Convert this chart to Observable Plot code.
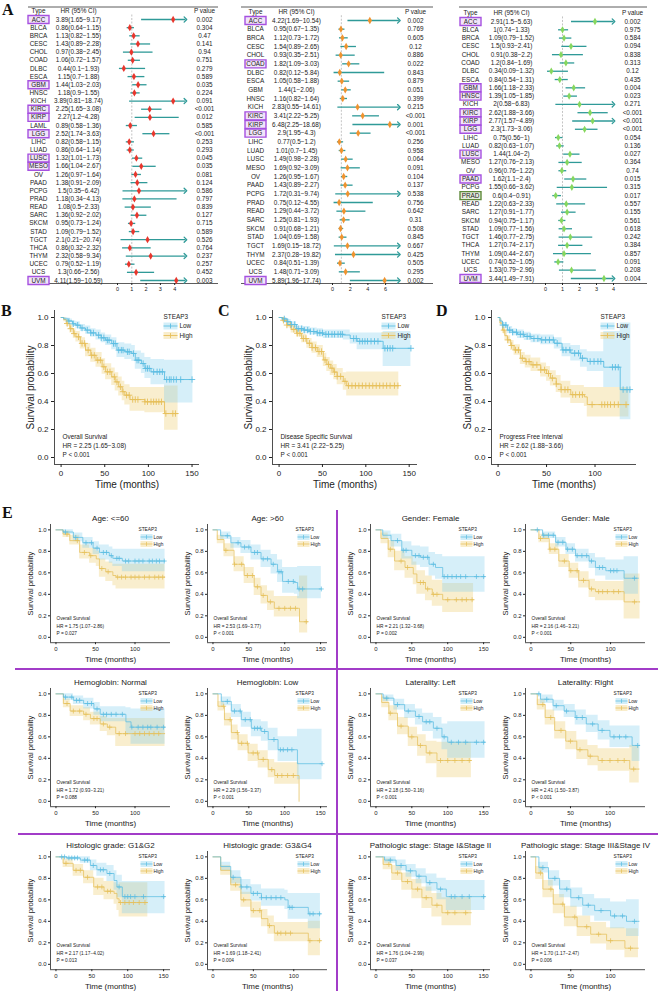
<!DOCTYPE html>
<html><head><meta charset="utf-8">
<script src="https://cdn.jsdelivr.net/npm/d3@7"></script>
<script src="https://cdn.jsdelivr.net/npm/@observablehq/plot@0.6"></script>
<style>
body{margin:0;background:#fff;}
#root{position:relative;width:658px;height:991px;overflow:hidden;background:#fff;font-family:"Liberation Sans",Arial,sans-serif;}
.lab{position:absolute;font-family:"Liberation Serif","Times New Roman",serif;font-weight:bold;font-size:16px;line-height:16px;color:#111;}
.dv{position:absolute;background:#a23cc8;}
</style></head><body><div id="root"></div>
<script>
// ---------------- Forest plot data (A) ----------------
const osTypes = ["ACC","BLCA","BRCA","CESC","CHOL","COAD","DLBC","ESCA","GBM","HNSC","KICH","KIRC","KIRP","LAML","LGG","LIHC","LUAD","LUSC","MESO","OV","PAAD","PCPG","PRAD","READ","SARC","SKCM","STAD","TGCT","THCA","THYM","UCEC","UCS","UVM"];
const osHR = [3.89,0.86,1.13,1.43,0.97,1.06,0.44,1.15,1.44,1.18,3.89,2.25,2.27,0.89,2.52,0.82,0.86,1.32,1.66,1.26,1.38,1.5,1.18,1.08,1.36,0.95,1.09,2.1,0.86,2.32,0.79,1.3,4.11];
const osLo = [1.65,0.64,0.82,0.89,0.38,0.72,0.1,0.7,1.03,0.9,0.81,1.65,1.2,0.58,1.74,0.58,0.64,1.01,1.04,0.97,0.91,0.35,0.34,0.5,0.92,0.73,0.79,0.21,0.32,0.58,0.52,0.66,1.59];
const osHi = [9.17,1.15,1.55,2.28,2.45,1.57,1.93,1.88,2.03,1.55,18.74,3.08,4.28,1.36,3.63,1.15,1.14,1.73,2.67,1.64,2.09,6.42,4.13,2.33,2.02,1.24,1.52,20.74,2.32,9.34,1.19,2.56,10.59];
const osP = ["0.002","0.304","0.47","0.141","0.94","0.751","0.279","0.589","0.035","0.224","0.091","<0.001","0.012","0.585","<0.001","0.253","0.293","0.045","0.035","0.081","0.124","0.586","0.797","0.839","0.127","0.715","0.589","0.526","0.764","0.237","0.257","0.452","0.003"];
const osHL = ["ACC","GBM","KIRC","KIRP","LGG","LUSC","MESO","UVM"];

const dssTypes = ["ACC","BLCA","BRCA","CESC","CHOL","COAD","DLBC","ESCA","GBM","HNSC","KICH","KIRC","KIRP","LGG","LIHC","LUAD","LUSC","MESO","OV","PAAD","PCPG","PRAD","READ","SARC","SKCM","STAD","TGCT","THYM","UCEC","UCS","UVM"];
const dssHR = [4.22,0.95,1.12,1.54,0.93,1.82,0.82,1.05,1.44,1.16,2.83,3.41,6.48,2.9,0.77,1.01,1.49,1.69,1.26,1.43,1.72,0.75,1.29,1.25,0.91,1.04,1.69,2.37,0.84,1.48,5.89];
const dssLo = [1.69,0.67,0.73,0.89,0.35,1.09,0.12,0.58,1,0.82,0.55,2.22,2.25,1.95,0.5,0.7,0.98,0.92,0.95,0.89,0.31,0.12,0.44,0.81,0.68,0.69,0.15,0.28,0.51,0.71,1.96];
const dssHi = [10.54,1.35,1.72,2.65,2.51,3.03,5.84,1.88,2.06,1.64,14.61,5.25,18.68,4.3,1.2,1.45,2.28,3.09,1.67,2.27,9.74,4.55,3.72,1.93,1.21,1.58,18.72,19.82,1.39,3.09,17.74];
const dssP = ["0.002","0.769","0.605","0.12","0.886","0.022","0.843","0.879","0.051","0.399","0.215","<0.001","0.001","<0.001","0.256","0.958","0.064","0.091","0.104","0.137","0.538","0.756","0.642","0.31","0.508","0.845","0.667","0.425","0.505","0.295","0.002"];
const dssHL = ["ACC","COAD","KIRC","KIRP","LGG","UVM"];

const pfiTypes = ["ACC","BLCA","BRCA","CESC","CHOL","COAD","DLBC","ESCA","GBM","HNSC","KICH","KIRC","KIRP","LGG","LIHC","LUAD","LUSC","MESO","OV","PAAD","PCPG","PRAD","READ","SARC","SKCM","STAD","TGCT","THCA","THYM","UCEC","UCS","UVM"];
const pfiHR = [2.91,1,1.09,1.5,0.91,1.2,0.34,0.84,1.66,1.39,2,2.62,2.77,2.3,0.75,0.82,1.44,1.27,0.96,1.62,1.55,0.6,1.22,1.27,0.94,1.09,1.46,1.27,1.09,0.74,1.53,3.44];
const pfiLo = [1.5,0.74,0.79,0.93,0.38,0.84,0.09,0.54,1.18,1.05,0.58,1.88,1.57,1.73,0.56,0.63,1.04,0.76,0.76,1.1,0.66,0.4,0.63,0.91,0.75,0.77,0.77,0.74,0.44,0.52,0.79,1.49];
const pfiHi = [5.63,1.33,1.52,2.41,2.2,1.69,1.32,1.31,2.33,1.85,6.83,3.66,4.89,3.06,1,1.07,2,2.13,1.22,2.4,3.62,0.91,2.33,1.77,1.17,1.56,2.75,2.17,2.67,1.05,2.96,7.91];
const pfiP = ["0.002","0.975","0.584","0.094","0.838","0.313","0.12","0.435","0.004","0.023","0.271","<0.001","<0.001","<0.001","0.054","0.136","0.027","0.364","0.74","0.015","0.315","0.017","0.557","0.155","0.561","0.618","0.242","0.384","0.857","0.091","0.208","0.004"];
const pfiHL = ["ACC","GBM","HNSC","KIRC","KIRP","LGG","LUSC","PAAD","UVM"];
const pfiHLGreen = ["PRAD"];

// ---------------- KM data: [time, survival, lower, upper] ----------------
const osKmLow = [[0,1,1,1],[3,0.99,0.98,1],[8,0.975,0.96,0.99],[13,0.955,0.935,0.975],[17,0.945,0.92,0.97],[22,0.925,0.9,0.95],[28,0.91,0.88,0.94],[34,0.89,0.86,0.92],[40,0.874,0.84,0.91],[46,0.855,0.82,0.89],[51,0.838,0.8,0.875],[58,0.814,0.77,0.855],[64,0.767,0.715,0.82],[73,0.755,0.7,0.81],[81,0.743,0.685,0.8],[85,0.695,0.63,0.76],[92,0.671,0.6,0.745],[96,0.636,0.565,0.715],[103,0.612,0.52,0.7],[118.5,0.557,0.39,0.695],[151,0.557,0.39,0.695]];
const osKmHigh = [[0,1,1,1],[3,0.985,0.97,1],[6,0.957,0.935,0.98],[10,0.92,0.89,0.95],[14,0.885,0.85,0.92],[17,0.862,0.825,0.9],[22,0.815,0.775,0.855],[28,0.767,0.72,0.815],[34,0.73,0.68,0.78],[40,0.695,0.645,0.75],[47,0.648,0.595,0.705],[51,0.612,0.555,0.67],[58,0.576,0.515,0.64],[62,0.54,0.475,0.605],[66,0.505,0.44,0.575],[70,0.47,0.405,0.545],[73,0.445,0.375,0.52],[79,0.414,0.33,0.5],[96,0.398,0.32,0.5],[118.5,0.314,0.195,0.51],[134,0.314,0.195,0.51]];
const osCensLow = [9,14,19,24,30,34,37,43,46,49,53,55,60,62,66,69,71,76,78,83,87,89,94,97,99,101,106,110,113,116,121,124,126,129,132,137,150];
const osCensHigh = [7,11,15,20,24,27,31,35,38,42,45,49,53,56,61,64,68,71,75,78,82,85,88,96,99,103,106,109,112,115,120,128,131];

const dssKmLow = [[0,1,1,1],[4,0.99,0.98,1],[9,0.97,0.955,0.985],[14,0.95,0.93,0.97],[20,0.92,0.9,0.94],[28,0.91,0.885,0.935],[36,0.9,0.875,0.925],[44,0.89,0.86,0.92],[51,0.88,0.85,0.91],[74,0.875,0.84,0.91],[82,0.85,0.81,0.89],[90,0.83,0.77,0.89],[120,0.78,0.65,0.9],[152,0.78,0.65,0.9]];
const dssKmHigh = [[0,1,1,1],[4,0.98,0.965,0.995],[9,0.946,0.925,0.965],[14,0.915,0.89,0.94],[20,0.887,0.86,0.915],[26,0.85,0.82,0.88],[32,0.816,0.78,0.85],[38,0.785,0.745,0.825],[44,0.757,0.715,0.8],[51,0.697,0.65,0.745],[55,0.665,0.615,0.715],[59,0.638,0.585,0.69],[63,0.61,0.555,0.665],[67,0.579,0.52,0.635],[74,0.544,0.48,0.605],[78,0.513,0.44,0.61],[138,0.513,0.44,0.61]];
const dssCensLow = [6,10,14,18,22,26,29,33,36,40,44,47,50,54,57,61,64,68,71,73,86,89,93,96,99,102,106,110,114,122,125,128,131,152];
const dssCensHigh = [5,9,13,17,21,24,28,31,35,38,42,46,49,53,57,61,64,67,71,76,80,84,88,92,96,100,104,108,112,116,120,124,128,133,137];

const pfiKmLow = [[0,1,1,1],[2,0.975,0.96,0.99],[4.5,0.946,0.925,0.965],[9.6,0.91,0.885,0.935],[15,0.895,0.87,0.92],[20,0.88,0.85,0.91],[27,0.865,0.835,0.895],[34,0.85,0.82,0.88],[44,0.84,0.805,0.875],[58,0.816,0.775,0.855],[66,0.768,0.72,0.815],[75,0.745,0.69,0.8],[85,0.709,0.645,0.77],[92,0.686,0.615,0.755],[109,0.645,0.5,0.9],[126,0.485,0.27,0.96],[137,0.485,0.27,0.96]];
const pfiKmHigh = [[0,1,1,1],[2,0.96,0.94,0.98],[4.5,0.91,0.885,0.935],[7,0.87,0.84,0.9],[9.6,0.84,0.81,0.87],[13,0.8,0.765,0.835],[16.5,0.768,0.73,0.805],[23,0.709,0.665,0.75],[28,0.685,0.64,0.73],[34,0.662,0.615,0.71],[44,0.626,0.575,0.675],[50,0.6,0.545,0.65],[54,0.567,0.51,0.62],[60,0.525,0.465,0.585],[65,0.485,0.425,0.545],[75,0.449,0.385,0.515],[89,0.433,0.365,0.5],[92,0.378,0.29,0.5],[135,0.378,0.29,0.5]];
const pfiCensLow = [5,8,12,15,19,23,26,30,33,37,41,45,49,53,57,61,67,70,74,79,83,87,95,99,103,106,118,121,124,129,133,136];
const pfiCensHigh = [6,10,14,18,21,25,29,32,36,40,44,48,52,56,60,65,69,72,77,80,84,87,97,107,110,113,116,120,124,132];

// E subgroups
const ageYLow = [[0,1,1,1],[9,0.98,0.96,1],[22,0.93,0.89,0.97],[34,0.88,0.83,0.93],[47,0.83,0.77,0.89],[55,0.79,0.72,0.86],[67.5,0.76,0.69,0.84],[72,0.735,0.66,0.82],[84,0.71,0.61,0.82],[138,0.71,0.61,0.82]];
const ageYHigh = [[0,1,1,1],[9,0.96,0.93,0.99],[17.5,0.9,0.86,0.95],[30,0.79,0.73,0.86],[42.5,0.76,0.69,0.83],[51,0.73,0.66,0.8],[55,0.64,0.56,0.73],[63,0.61,0.52,0.7],[72,0.575,0.48,0.68],[76,0.56,0.45,0.68],[138,0.56,0.45,0.68]];
const ageYCensLow = [12,25,38,45,52,60,64,70,77,80,88,92,100,105,110,118,122,127,131,137];
const ageYCensHigh = [14,27,36,44,58,66,78,83,88,95,100,105,112,118,125,130,135];

const ageOLow = [[0,1,1,1],[10.7,0.945,0.91,0.98],[25,0.88,0.83,0.93],[39,0.84,0.78,0.9],[53,0.79,0.72,0.86],[67,0.73,0.65,0.81],[81,0.68,0.59,0.77],[90,0.61,0.51,0.72],[97,0.52,0.41,0.65],[113.5,0.51,0.4,0.65],[118,0.45,0.36,0.66],[151,0.45,0.36,0.66]];
const ageOHigh = [[0,1,1,1],[6,0.91,0.87,0.95],[15.4,0.81,0.75,0.87],[29.4,0.68,0.61,0.75],[43.5,0.575,0.5,0.65],[57.5,0.47,0.39,0.55],[67,0.39,0.31,0.48],[76,0.33,0.25,0.43],[85.5,0.27,0.19,0.38],[118,0.27,0.19,0.38],[120.6,0.145,0.04,0.57],[132,0.145,0.04,0.57]];
const ageOCensLow = [20,35,44,50,58,62,70,76,84,92,95,105,112,120,125,151];
const ageOCensHigh = [18,30,40,48,55,62,70,80,92,100,108,115,130];

const femLow = [[0,1,1,1],[9.5,0.95,0.91,0.99],[21,0.9,0.84,0.96],[36,0.81,0.73,0.89],[50,0.76,0.67,0.85],[62,0.745,0.65,0.84],[74,0.68,0.57,0.79],[83,0.65,0.54,0.77],[93,0.565,0.42,0.75],[152,0.565,0.42,0.75]];
const femHigh = [[0,1,1,1],[7,0.92,0.87,0.97],[17,0.82,0.74,0.9],[26,0.71,0.62,0.8],[40.5,0.65,0.55,0.75],[52,0.59,0.49,0.7],[57,0.51,0.4,0.62],[69,0.45,0.34,0.57],[78.5,0.4,0.29,0.53],[93,0.35,0.23,0.5],[136,0.35,0.23,0.5]];
const femCensLow = [30,38,42,55,60,66,72,80,95,100,106,112,118,125,140,150];
const femCensHigh = [20,35,44,62,66,72,80,85,100,112,120,126,134];

const maleLow = [[0,1,1,1],[14.6,0.95,0.92,0.98],[31,0.885,0.84,0.93],[44,0.82,0.77,0.87],[56,0.76,0.7,0.82],[73,0.71,0.64,0.78],[81,0.65,0.57,0.74],[94,0.62,0.53,0.72],[117,0.55,0.4,0.75],[135,0.55,0.4,0.75]];
const maleHigh = [[0,1,1,1],[10,0.92,0.88,0.96],[23,0.82,0.77,0.87],[35,0.71,0.65,0.77],[48,0.62,0.55,0.69],[60,0.53,0.46,0.61],[73,0.45,0.37,0.54],[81,0.425,0.34,0.52],[117,0.33,0.17,0.59],[137,0.33,0.17,0.59]];
const maleCensLow = [8,16,22,28,34,40,46,52,58,64,70,76,86,90,100,104,108,130];
const maleCensHigh = [12,24,30,42,50,58,66,76,85,90,96,104,110,130];

const hbNLow = [[0,1,1,1],[9.4,0.97,0.94,1],[22,0.94,0.9,0.98],[35,0.91,0.86,0.96],[48,0.86,0.8,0.92],[56,0.81,0.74,0.88],[88.5,0.74,0.62,0.87],[95,0.69,0.53,0.86],[138,0.69,0.53,0.86]];
const hbNHigh = [[0,1,1,1],[9.4,0.91,0.87,0.95],[18,0.84,0.79,0.89],[35,0.81,0.75,0.87],[43.6,0.77,0.71,0.83],[56,0.72,0.65,0.79],[65,0.69,0.61,0.77],[75.6,0.63,0.51,0.77],[138,0.63,0.51,0.77]];
const hbNCensLow = [12,20,26,30,40,45,52,60,64,70,76,84,96,104,110,116,120,128,136];
const hbNCensHigh = [14,22,30,38,48,52,60,68,80,88,100,106,112,118,124,130];

const hbLLow = [[0,1,1,1],[11.6,0.93,0.89,0.97],[25.6,0.84,0.78,0.9],[39.5,0.76,0.69,0.83],[53.5,0.68,0.6,0.76],[67.4,0.65,0.56,0.74],[77,0.575,0.47,0.68],[90.7,0.48,0.37,0.6],[117.7,0.35,0.2,0.67],[152,0.35,0.2,0.67]];
const hbLHigh = [[0,1,1,1],[7,0.885,0.84,0.93],[16,0.76,0.7,0.82],[25.6,0.64,0.57,0.71],[35,0.54,0.47,0.62],[49,0.45,0.37,0.53],[63,0.39,0.31,0.47],[77,0.295,0.22,0.39],[86,0.24,0.16,0.36],[120,0,0,0]];
const hbLCensLow = [20,30,38,45,52,58,62,66,72,85,94,98,104,110,152];
const hbLCensHigh = [15,24,34,40,48,56,62,70,82,90,96,104,112];

const latLLow = [[0,1,1,1],[10,0.96,0.93,0.99],[25,0.9,0.85,0.95],[40,0.84,0.77,0.9],[55,0.79,0.71,0.86],[65,0.74,0.65,0.82],[80,0.68,0.58,0.78],[92,0.6,0.48,0.72],[100,0.55,0.4,0.74],[152,0.55,0.4,0.74]];
const latLHigh = [[0,1,1,1],[8,0.92,0.87,0.97],[18,0.82,0.75,0.89],[30,0.7,0.62,0.78],[45,0.6,0.51,0.69],[58,0.52,0.42,0.62],[70,0.45,0.35,0.56],[85,0.38,0.22,0.55],[133,0.38,0.22,0.55]];
const latLCensLow = [15,30,45,60,70,75,85,95,105,115,125,140,150];
const latLCensHigh = [20,35,50,62,75,90,100,110,120,130];

const latRLow = [[0,1,1,1],[12,0.95,0.91,0.99],[28,0.89,0.84,0.94],[42,0.84,0.78,0.9],[56,0.78,0.71,0.85],[70,0.72,0.64,0.8],[85,0.66,0.57,0.75],[100,0.6,0.5,0.7],[128,0.52,0.37,0.7],[138,0.52,0.37,0.7]];
const latRHigh = [[0,1,1,1],[8,0.9,0.85,0.95],[18,0.78,0.71,0.85],[30,0.66,0.58,0.74],[44,0.56,0.48,0.65],[58,0.48,0.39,0.57],[72,0.42,0.33,0.52],[85,0.38,0.28,0.49],[125,0.3,0.17,0.52],[137,0.3,0.17,0.52]];
const latRCensLow = [10,20,32,45,58,65,78,90,105,112,120,135];
const latRCensHigh = [15,25,38,50,62,75,90,100,110,118,130];

const g12Low = [[0,1,1,1],[15,0.99,0.97,1],[34,0.97,0.94,1],[48,0.92,0.87,0.97],[57,0.88,0.82,0.94],[71,0.845,0.77,0.92],[81,0.78,0.69,0.87],[85,0.72,0.62,0.83],[92.5,0.63,0.47,0.77],[152,0.63,0.47,0.77]];
const g12High = [[0,1,1,1],[10,0.94,0.9,0.98],[24,0.875,0.82,0.93],[38.5,0.81,0.75,0.87],[52.6,0.72,0.64,0.8],[67,0.68,0.6,0.77],[81,0.66,0.56,0.76],[85,0.61,0.5,0.74],[88,0.575,0.44,0.76],[128,0.575,0.44,0.76]];
const g12CensLow = [8,12,18,22,26,30,40,44,52,62,66,75,88,96,100,104,110,122,150];
const g12CensHigh = [14,28,34,44,58,64,72,76,90,96,102,108,116,124];

const g34Low = [[0,1,1,1],[9.6,0.91,0.87,0.95],[22,0.81,0.75,0.87],[34.6,0.72,0.65,0.79],[47,0.66,0.59,0.74],[60,0.62,0.54,0.7],[89,0.6,0.51,0.69],[93,0.53,0.42,0.66],[118,0.47,0.33,0.66],[133,0.47,0.33,0.66]];
const g34High = [[0,1,1,1],[9.6,0.875,0.83,0.92],[22,0.74,0.68,0.8],[34.6,0.6,0.53,0.67],[47,0.5,0.43,0.58],[60,0.425,0.35,0.51],[68,0.36,0.28,0.45],[76,0.29,0.21,0.39],[118,0.22,0.08,0.4],[133,0.22,0.08,0.4]];
const g34CensLow = [25,35,42,50,55,60,66,72,78,84,95,98,120,124,132];
const g34CensHigh = [28,38,50,58,70,80,84,90,96,120,132];

const st12Low = [[0,1,1,1],[12,0.97,0.94,1],[28,0.92,0.87,0.97],[42,0.87,0.81,0.93],[56,0.82,0.75,0.89],[70,0.76,0.68,0.84],[85,0.7,0.6,0.8],[98,0.63,0.5,0.78],[152,0.63,0.5,0.78]];
const st12High = [[0,1,1,1],[10,0.93,0.88,0.98],[22,0.85,0.78,0.92],[36,0.77,0.69,0.85],[50,0.7,0.61,0.79],[64,0.62,0.52,0.72],[78,0.55,0.44,0.66],[92,0.48,0.36,0.62],[133,0.48,0.36,0.62]];
const st12CensLow = [20,35,48,60,75,90,105,110,120,130,150];
const st12CensHigh = [18,30,44,58,70,85,100,110,125];

const st34Low = [[0,1,1,1],[10,0.9,0.85,0.95],[22,0.8,0.73,0.87],[36,0.7,0.62,0.78],[50,0.62,0.53,0.71],[65,0.55,0.45,0.65],[80,0.5,0.4,0.61],[100,0.45,0.33,0.58],[120,0.4,0.26,0.6],[136,0.4,0.26,0.6]];
const st34High = [[0,1,1,1],[6,0.85,0.79,0.91],[15,0.7,0.62,0.78],[28,0.56,0.47,0.65],[42,0.44,0.35,0.54],[58,0.35,0.26,0.45],[75,0.28,0.19,0.39],[95,0.22,0.13,0.34],[118,0.15,0.06,0.33],[135,0.15,0.06,0.33]];
const st34CensLow = [15,30,45,60,72,88,105,115,130];
const st34CensHigh = [12,25,40,55,70,85,100,125];

// ---------------- helpers ----------------
const SANS = '"Liberation Sans", Arial, Helvetica, sans-serif';
const root = document.getElementById("root");
const TEAL = "#2f9a98";
const BLUE = "#5cbde2", BLUE_F = "#7fcdec";
const YEL = "#e6c05a", YEL_F = "#efd27e";

function place(svg, left, top) {
  svg.style.position = "absolute";
  svg.style.left = left + "px";
  svg.style.top = top + "px";
  root.appendChild(svg);
}
function rectSym(w, h) { return {draw(ctx) { ctx.rect(-w / 2, -h / 2, w, h); }}; }
function keySym(w, h) { return {draw(ctx) { ctx.moveTo(-w / 2, 0); ctx.lineTo(w / 2, 0); ctx.moveTo(0, -h / 2); ctx.lineTo(0, h / 2); }}; }

function forest(o) {
  const n = o.types.length;
  const rows = o.types.map((t, i) => ({
    i, type: t, hr: o.hr[i], lo: o.lo[i], hi: Math.min(o.hi[i], o.xMax), cut: o.hi[i] > o.xMax,
    ci: `${o.hr[i]}(${o.lo[i]}\u2212${o.hi[i]})`, p: o.p[i]
  }));
  const H = 300, top = 6.5, bottom = 283;
  const step = (o.yLast - o.yFirst) / (n - 1);
  const yv = px => (px - o.yFirst) / step;
  const box = rectSym(21, 8);
  const T = {frameAnchor: "left", textAnchor: "middle", lineAnchor: "middle"};
  const svg = Plot.plot({
    width: o.width, height: H, marginLeft: 0, marginRight: 0, marginTop: top, marginBottom: H - bottom,
    x: {domain: [0, o.xMax], range: [o.zeroPx, o.zeroPx + o.xMax * o.unitPx]},
    y: {domain: [0, n - 1], range: [o.yFirst, o.yLast], axis: null},
    style: {fontFamily: SANS, fontSize: "6.4px", color: "#222", background: "transparent", overflow: "visible"},
    marks: [
      Plot.ruleY([yv(top), yv(bottom)], {stroke: "#333", strokeWidth: 0.8}),
      Plot.ruleX([1], {y1: () => -0.55, y2: () => yv(bottom), stroke: "#aaa", strokeWidth: 0.7, strokeDasharray: "2,1.5"}),
      Plot.dot(rows.filter(d => o.hl.includes(d.type)), {y: "i", frameAnchor: "left", dx: o.cType, symbol: box, r: 3, stroke: "#a651e0", fill: "#f1e4f9", strokeWidth: 1.4}),
      Plot.dot(rows.filter(d => (o.green || []).includes(d.type)), {y: "i", frameAnchor: "left", dx: o.cType, symbol: box, r: 3, stroke: "#5f8a3a", fill: "#e4eddb", strokeWidth: 1.4}),
      Plot.text(rows, {...T, y: "i", text: "type", dx: o.cType}),
      Plot.text(rows, {...T, y: "i", text: "ci", dx: o.cHR}),
      Plot.text(rows, {...T, y: "i", text: "p", dx: o.cP}),
      Plot.text(["Type"], {...T, text: d => d, y: () => -1, dx: o.cType}),
      Plot.text(["HR (95% CI)"], {...T, text: d => d, y: () => -1, dx: o.cHR}),
      Plot.text(["P value"], {...T, text: d => d, y: () => -1, dx: o.cP}),
      Plot.link(rows.filter(d => !d.cut), {x1: "lo", x2: "hi", y1: "i", y2: "i", stroke: TEAL, strokeWidth: 1.3}),
      Plot.link(rows.filter(d => d.cut), {x1: "lo", x2: "hi", y1: "i", y2: "i", stroke: TEAL, strokeWidth: 1.3, markerEnd: "arrow"}),
      Plot.dot(rows, {x: "hr", y: "i", symbol: "diamond", fill: o.color, r: 2.2}),
      Plot.axisX({ticks: o.ticks, tickFormat: d => String(d), tickSize: 2, tickPadding: 2, fontSize: 5.5, label: null})
    ]
  });
  place(svg, o.left, 0);
}

function km(o) {
  const big = !!o.big;
  const mL = big ? 40 : 27, mR = 4, mT = big ? 4 : 14, mB = big ? 28 : 22;
  const lw = big ? 0.9 : 0.75;
  const rows = a => a.map(r => ({t: r[0], s: r[1], lo: r[2], hi: r[3]}));
  const sAt = (a, t) => { let v = a[0][1]; for (const r of a) if (r[0] <= t) v = r[1]; return v; };
  const cens = (a, c) => c.map(t => ({t, s: sAt(a, t)}));
  const T = o.T;
  const fs = big ? 8 : 6, tfs = big ? 10 : 8, afs = big ? 6.4 : 4.8, lfs = big ? 6.4 : 4.8;
  const L = big ? {s: -36, k: -29, l: -20, y0: 6, y1: 15.5, y2: 25, kw: 14, kh: 7} : {s: -32, k: -24, l: -17, y0: 4.5, y1: 12.5, y2: 19.5, kw: 12, kh: 6};
  const A = big ? {dx: 8, d: [-28, -18.7, -9.5]} : {dx: 6, d: [-24, -16.5, -9.2]};
  const TL = {textAnchor: "start", lineAnchor: "middle"};
  const marks = [
    Plot.areaY(rows(o.high), {x: "t", y1: "lo", y2: "hi", curve: "step-after", fill: YEL_F, fillOpacity: 0.38}),
    Plot.areaY(rows(o.low), {x: "t", y1: "lo", y2: "hi", curve: "step-after", fill: BLUE_F, fillOpacity: 0.32}),
    Plot.line(rows(o.high), {x: "t", y: "s", curve: "step-after", stroke: YEL, strokeWidth: lw}),
    Plot.line(rows(o.low), {x: "t", y: "s", curve: "step-after", stroke: BLUE, strokeWidth: lw}),
    Plot.dot(cens(o.high, o.cHigh), {x: "t", y: "s", symbol: "plus", stroke: YEL, r: big ? 2.2 : 1.7, strokeWidth: lw}),
    Plot.dot(cens(o.low, o.cLow), {x: "t", y: "s", symbol: "plus", stroke: BLUE, r: big ? 2.2 : 1.7, strokeWidth: lw}),
    Plot.ruleX([-0.05 * T], {stroke: "#222", strokeWidth: 0.8}),
    Plot.ruleY([-0.05], {stroke: "#222", strokeWidth: 0.8}),
    Plot.axisX({ticks: o.ticks, tickFormat: d => String(d), tickSize: big ? 3 : 2, tickPadding: big ? 3 : 2, fontSize: fs, label: null}),
    Plot.axisY({ticks: [0, 0.2, 0.4, 0.6, 0.8, 1], tickFormat: d => d.toFixed(1), tickSize: big ? 3 : 2, tickPadding: big ? 3 : 2, fontSize: fs, label: null}),
    Plot.text(["Survival probability"], {text: d => d, frameAnchor: "left", textAnchor: "middle", lineAnchor: "middle", dx: big ? -24 : -19.5, rotate: -90, fontSize: big ? 10 : 7.6}),
    Plot.text(["Time (months)"], {text: d => d, frameAnchor: "bottom", textAnchor: "middle", lineAnchor: "middle", dy: big ? 20 : 17, fontSize: tfs}),
    Plot.text(["STEAP3"], {...TL, text: d => d, frameAnchor: "top-right", dx: L.s, dy: L.y0, fontSize: lfs}),
    Plot.dot(["a"], {frameAnchor: "top-right", dx: L.k, dy: L.y1, symbol: rectSym(L.kw, L.kh), r: 3, fill: BLUE_F, fillOpacity: 0.35, stroke: "none"}),
    Plot.dot(["a"], {frameAnchor: "top-right", dx: L.k, dy: L.y1, symbol: keySym(L.kw, L.kh * 0.7), r: 3, stroke: BLUE, strokeWidth: lw, fill: "none"}),
    Plot.dot(["a"], {frameAnchor: "top-right", dx: L.k, dy: L.y2, symbol: rectSym(L.kw, L.kh), r: 3, fill: YEL_F, fillOpacity: 0.4, stroke: "none"}),
    Plot.dot(["a"], {frameAnchor: "top-right", dx: L.k, dy: L.y2, symbol: keySym(L.kw, L.kh * 0.7), r: 3, stroke: YEL, strokeWidth: lw, fill: "none"}),
    Plot.text(["Low"], {...TL, text: d => d, frameAnchor: "top-right", dx: L.l, dy: L.y1, fontSize: lfs}),
    Plot.text(["High"], {...TL, text: d => d, frameAnchor: "top-right", dx: L.l, dy: L.y2, fontSize: lfs}),
    ...o.ann.map((t, i) => Plot.text([t], {...TL, text: d => d, frameAnchor: "bottom-left", dx: A.dx, dy: A.d[i], fontSize: afs}))
  ];
  if (o.title) marks.push(Plot.text([o.title], {text: d => d, frameAnchor: "top", textAnchor: "middle", lineAnchor: "middle", dy: -6.5, fontSize: 8}));
  const svg = Plot.plot({
    width: mL + o.pw + mR, height: mT + o.ph + mB,
    marginLeft: mL, marginRight: mR, marginTop: mT, marginBottom: mB,
    x: {domain: [-0.05 * T, 1.05 * T]},
    y: {domain: [-0.05, 1.05]},
    style: {fontFamily: SANS, fontSize: fs + "px", color: "#222", background: "transparent", overflow: "visible"},
    marks
  });
  place(svg, o.ax - mL, o.top - mT);
}

// ---------------- draw ----------------
forest({types: osTypes, hr: osHR, lo: osLo, hi: osHi, p: osP, hl: osHL, color: "#e8362d", xMax: 4.75, ticks: [0,1,2,3,4],
  left: 28, width: 190, zeroPx: 89, unitPx: 14.3, cType: 10, cHR: 50, cP: 176, yFirst: 19, yLast: 280});
forest({types: dssTypes, hr: dssHR, lo: dssLo, hi: dssHi, p: dssP, hl: dssHL, color: "#f0932f", xMax: 7.5, ticks: [0,2,4,6],
  left: 241, width: 192, zeroPx: 91, unitPx: 8.85, cType: 14, cHR: 55, cP: 174, yFirst: 20, yLast: 280});
forest({types: pfiTypes, hr: pfiHR, lo: pfiLo, hi: pfiHi, p: pfiP, hl: pfiHL, green: pfiHLGreen, color: "#86d75e", xMax: 4, ticks: [0,1,2,3,4],
  left: 459, width: 188, zeroPx: 86, unitPx: 17, cType: 11, cHR: 52, cP: 173, yFirst: 21, yLast: 278});

km({big: true, ax: 54.3, top: 310.3, pw: 145, ph: 154, T: 151, ticks: [0,50,100,150], low: osKmLow, high: osKmHigh, cLow: osCensLow, cHigh: osCensHigh,
  ann: ["Overall Survival", "HR = 2.25 (1.65\u22123.08)", "P < 0.001"]});
km({big: true, ax: 272.3, top: 310.3, pw: 145, ph: 154, T: 152, ticks: [0,50,100,150], low: dssKmLow, high: dssKmHigh, cLow: dssCensLow, cHigh: dssCensHigh,
  ann: ["Disease Specific Survival", "HR = 3.41 (2.22\u22125.25)", "P < 0.001"]});
km({big: true, ax: 491, top: 310.3, pw: 145, ph: 154, T: 136, ticks: [0,50,100], low: pfiKmLow, high: pfiKmHigh, cLow: pfiCensLow, cHigh: pfiCensHigh,
  ann: ["Progress Free Interval", "HR = 2.62 (1.88\u22123.66)", "P < 0.001"]});

const rowsTop = [524, 688.4, 851.3];
const colsAx = [50.3, 206.7, 370.3, 524.7];
const T150 = [0,50,100,150], T100 = [0,50,100];
const E = [
  {r: 0, c: 0, title: "Age: <=60", T: 138, ticks: T100, low: ageYLow, high: ageYHigh, cLow: ageYCensLow, cHigh: ageYCensHigh, hr: "HR = 1.75 (1.07\u22122.86)", p: "P = 0.027"},
  {r: 0, c: 1, title: "Age: >60", T: 152, ticks: T150, low: ageOLow, high: ageOHigh, cLow: ageOCensLow, cHigh: ageOCensHigh, hr: "HR = 2.53 (1.69\u22123.77)", p: "P < 0.001"},
  {r: 0, c: 2, title: "Gender: Female", T: 152, ticks: T150, low: femLow, high: femHigh, cLow: femCensLow, cHigh: femCensHigh, hr: "HR = 2.21 (1.32\u22123.68)", p: "P = 0.002"},
  {r: 0, c: 3, title: "Gender: Male", T: 137, ticks: T100, low: maleLow, high: maleHigh, cLow: maleCensLow, cHigh: maleCensHigh, hr: "HR = 2.16 (1.46\u22123.21)", p: "P < 0.001"},
  {r: 1, c: 0, title: "Hemoglobin: Normal", T: 138, ticks: T100, low: hbNLow, high: hbNHigh, cLow: hbNCensLow, cHigh: hbNCensHigh, hr: "HR = 1.72 (0.93\u22123.21)", p: "P = 0.088"},
  {r: 1, c: 1, title: "Hemoglobin: Low", T: 152, ticks: T150, low: hbLLow, high: hbLHigh, cLow: hbLCensLow, cHigh: hbLCensHigh, hr: "HR = 2.29 (1.56\u22123.37)", p: "P < 0.001"},
  {r: 1, c: 2, title: "Laterality: Left", T: 152, ticks: T150, low: latLLow, high: latLHigh, cLow: latLCensLow, cHigh: latLCensHigh, hr: "HR = 2.18 (1.50\u22123.16)", p: "P < 0.001"},
  {r: 1, c: 3, title: "Laterality: Right", T: 138, ticks: T100, low: latRLow, high: latRHigh, cLow: latRCensLow, cHigh: latRCensHigh, hr: "HR = 2.41 (1.50\u22123.87)", p: "P < 0.001"},
  {r: 2, c: 0, title: "Histologic grade: G1&G2", T: 152, ticks: T150, low: g12Low, high: g12High, cLow: g12CensLow, cHigh: g12CensHigh, hr: "HR = 2.17 (1.17\u22124.02)", p: "P = 0.013"},
  {r: 2, c: 1, title: "Histologic grade: G3&G4", T: 135, ticks: T100, low: g34Low, high: g34High, cLow: g34CensLow, cHigh: g34CensHigh, hr: "HR = 1.69 (1.18\u22122.41)", p: "P = 0.004"},
  {r: 2, c: 2, title: "Pathologic stage: Stage I&Stage II", T: 152, ticks: T150, low: st12Low, high: st12High, cLow: st12CensLow, cHigh: st12CensHigh, hr: "HR = 1.76 (1.04\u22122.99)", p: "P = 0.037"},
  {r: 2, c: 3, title: "Pathologic stage: Stage III&Stage IV", T: 137, ticks: T100, low: st34Low, high: st34High, cLow: st34CensLow, cHigh: st34CensHigh, hr: "HR = 1.70 (1.17\u22122.47)", p: "P = 0.006"}
];
for (const e of E) {
  km({ax: colsAx[e.c], top: rowsTop[e.r], pw: 120, ph: 118.2, T: e.T, ticks: e.ticks, low: e.low, high: e.high, cLow: e.cLow, cHigh: e.cHigh,
    title: e.title, ann: ["Overall Survival", e.hr, e.p]});
}

// panel labels and dividers
const labs = [["A", 2, 2], ["B", 1, 303], ["C", 218, 303], ["D", 436, 303], ["E", 2, 505]];
for (const [t, x, y] of labs) { const d = document.createElement("div"); d.className = "lab"; d.textContent = t; d.style.left = x + "px"; d.style.top = y + "px"; root.appendChild(d); }
const divs = [[336.3, 510, 2, 481], [15, 668.3, 643, 2], [18, 833.3, 640, 2]];
for (const [x, y, w, h] of divs) { const d = document.createElement("div"); d.className = "dv"; Object.assign(d.style, {left: x + "px", top: y + "px", width: w + "px", height: h + "px"}); root.appendChild(d); }
</script></body></html>
